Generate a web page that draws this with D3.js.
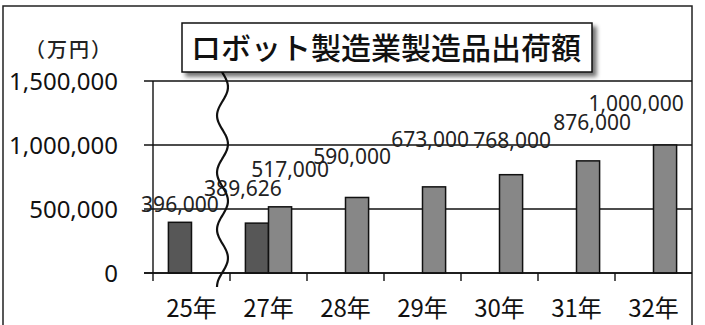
<!DOCTYPE html>
<html lang="ja">
<head>
<meta charset="utf-8">
<script src="https://cdn.jsdelivr.net/npm/d3@7"></script>
<style>
  html, body { margin: 0; padding: 0; background: #fff; }
  svg { display: block; }
</style>
</head>
<body>
<svg id="chart" width="705" height="325"></svg>
<script>
// Shipment value of robot-manufacturing products (unit: 万円)
const categories = ["25年", "27年", "28年", "29年", "30年", "31年", "32年"];
const actualValues = [396000, 389626, null, null, null, null, null];
const plannedValues = [null, 517000, 590000, 673000, 768000, 876000, 1000000];
const yTickValues = [0, 500000, 1000000, 1500000];
const seriesKeys = ["actual", "planned"];

// Hand-placed label nudges (dx, dy from the top centre of each bar)
const actualLabelNudge = [[0, -18], [-14, -35], null, null, null, null, null];
const plannedLabelNudge = [null, [10, -37], [-5, -41], [-4, -47], [1, -34], [4, -38], [-29, -42]];

const svg = d3.select("#chart");
const W = 705, H = 325;
const plot = { left: 153, right: 692, top: 81, bottom: 273 };

const fmt = d3.format(",");
const numFont = "'Noto Sans', 'Open Sans', sans-serif";
const jpFont = "'Noto Sans CJK JP', 'Noto Sans', sans-serif";

// Scales
const x = d3.scaleBand()
  .domain(categories)
  .range([plot.left, plot.right])
  .paddingInner(0.4)
  .paddingOuter(0.2);
const xInner = d3.scaleBand()
  .domain(seriesKeys)
  .range([0, x.bandwidth()]);
const y = d3.scaleLinear()
  .domain([0, 1500000])
  .range([plot.bottom, plot.top]);

// Drop shadow for the title box
const defs = svg.append("defs");
const shadow = defs.append("filter").attr("id", "shadow")
  .attr("x", "-10%").attr("y", "-20%").attr("width", "130%").attr("height", "160%");
shadow.append("feGaussianBlur").attr("in", "SourceAlpha").attr("stdDeviation", 2.2).attr("result", "blur");
shadow.append("feOffset").attr("dx", 4).attr("dy", 4).attr("result", "off");
shadow.append("feComponentTransfer").append("feFuncA").attr("type", "linear").attr("slope", 0.55);
const merge = shadow.append("feMerge");
merge.append("feMergeNode");
merge.append("feMergeNode").attr("in", "SourceGraphic");

// Outer frame
svg.append("rect")
  .attr("x", 3).attr("y", 6)
  .attr("width", plot.right - 3).attr("height", H + 10)
  .attr("fill", "#fff").attr("stroke", "#222").attr("stroke-width", 1.5);

// Horizontal gridlines (plus the short outside tick on the left)
svg.append("g").selectAll("line")
  .data(yTickValues)
  .join("line")
  .attr("x1", plot.left - 9).attr("x2", plot.right)
  .attr("y1", d => y(d)).attr("y2", d => y(d))
  .attr("stroke", "#111").attr("stroke-width", 1.4);

// Y axis labels
const yAxis = d3.axisLeft(y)
  .tickValues(yTickValues)
  .tickFormat(fmt)
  .tickSize(9)
  .tickPadding(26);
const gy = svg.append("g")
  .attr("transform", `translate(${plot.left},0)`)
  .call(yAxis);
gy.select(".domain").remove();
gy.selectAll(".tick line").remove();
gy.selectAll(".tick text")
  .attr("font-family", numFont)
  .attr("font-size", 24)
  .attr("fill", "#111")
  .attr("dy", "0.36em");

// Y axis line
svg.append("line")
  .attr("x1", plot.left).attr("x2", plot.left)
  .attr("y1", y(1500000)).attr("y2", y(0))
  .attr("stroke", "#111").attr("stroke-width", 1.4);

// Bars
const rows = categories.map((c, i) => ({
  cat: c,
  values: [
    { key: "actual", value: actualValues[i], nudge: actualLabelNudge[i] },
    { key: "planned", value: plannedValues[i], nudge: plannedLabelNudge[i] }
  ].filter(d => d.value != null)
}));
const colors = { actual: "#575757", planned: "#878787" };

const groups = svg.append("g").selectAll("g")
  .data(rows)
  .join("g")
  .attr("transform", d => `translate(${x(d.cat)},0)`);

groups.selectAll("rect")
  .data(d => d.values)
  .join("rect")
  .attr("x", d => xInner(d.key))
  .attr("width", xInner.bandwidth())
  .attr("y", d => y(d.value))
  .attr("height", d => y(0) - y(d.value))
  .attr("fill", d => colors[d.key])
  .attr("stroke", "#111")
  .attr("stroke-width", 1.5);

// X axis baseline
svg.append("line")
  .attr("x1", plot.left - 9).attr("x2", plot.right)
  .attr("y1", y(0)).attr("y2", y(0))
  .attr("stroke", "#111").attr("stroke-width", 1.4);

// X axis: ticks sit on the category boundaries
const step = x.step();
const boundaries = d3.range(categories.length).map(i => x(categories[i]) - x.paddingOuter() * step);
svg.append("g").selectAll("line")
  .data(boundaries)
  .join("line")
  .attr("x1", d => d).attr("x2", d => d)
  .attr("y1", y(0)).attr("y2", y(0) + 8)
  .attr("stroke", "#111").attr("stroke-width", 1.4);

const xAxis = d3.axisBottom(x).tickSize(0).tickPadding(0);
const gx = svg.append("g")
  .attr("transform", `translate(0,${y(0)})`)
  .call(xAxis);
gx.select(".domain").remove();
gx.selectAll(".tick text")
  .attr("font-family", jpFont)
  .attr("font-size", 24)
  .attr("fill", "#111")
  .attr("y", 44)
  .attr("dy", "0");

// Value labels
groups.selectAll("text.val")
  .data(d => d.values)
  .join("text")
  .attr("class", "val")
  .attr("x", d => xInner(d.key) + xInner.bandwidth() / 2 + d.nudge[0])
  .attr("y", d => y(d.value) + d.nudge[1])
  .attr("dy", "0.36em")
  .attr("text-anchor", "middle")
  .attr("font-family", numFont)
  .attr("font-size", 21)
  .attr("fill", "#222")
  .text(d => fmt(d.value));

// Wavy break mark between 25年 and 27年
const breakX = boundaries[1] - 7.5;
const yTopBreak = y(1500000) - 11;
const yBotBreak = y(0) + 14;
const wavePts = d3.range(0, 1.0001, 0.01).map(t => {
  const yy = yTopBreak + t * (yBotBreak - yTopBreak);
  return [breakX + 5.5 * Math.sin((yy - 87 + 14.25) / 57 * 2 * Math.PI), yy];
});
svg.append("path")
  .attr("d", d3.line().curve(d3.curveBasis)(wavePts))
  .attr("fill", "none")
  .attr("stroke", "#111")
  .attr("stroke-width", 2.2);

// Unit label
svg.append("text")
  .attr("x", 69).attr("y", 50)
  .attr("dy", "0.36em")
  .attr("text-anchor", "middle")
  .attr("font-family", jpFont)
  .attr("font-size", 20)
  .attr("font-weight", 500)
  .attr("letter-spacing", 2)
  .attr("fill", "#222")
  .text("（万円）");

// Title box
const title = svg.append("g");
title.append("rect")
  .attr("x", 182).attr("y", 23)
  .attr("width", 410).attr("height", 49)
  .attr("fill", "#fff")
  .attr("stroke", "#111").attr("stroke-width", 1.5)
  .attr("filter", "url(#shadow)");
title.append("text")
  .attr("x", 386).attr("y", 48)
  .attr("dy", "0.36em")
  .attr("text-anchor", "middle")
  .attr("font-family", jpFont)
  .attr("font-size", 30)
  .attr("font-weight", 500)
  .attr("fill", "#111")
  .text("ロボット製造業製造品出荷額");
</script>
</body>
</html>
